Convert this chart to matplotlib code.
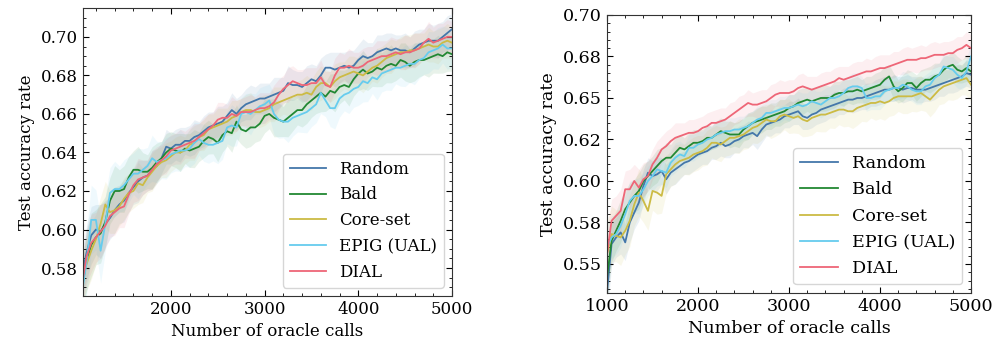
import numpy as np
import matplotlib
matplotlib.use('Agg')
import matplotlib.pyplot as plt
from matplotlib.ticker import MultipleLocator, FixedLocator, FixedFormatter

# x grids (oracle calls)
left_x = list(range(1050, 5001, 50))
right_x = list(range(1000, 5001, 50))

labels = ['Random', 'Bald', 'Core-set', 'EPIG (UAL)', 'DIAL']
colors = ['#4477AA', '#228833', '#CCBB44', '#66CCEE', '#EE6677']

# left panel, mean test accuracy
left_random = [
    0.576, 0.588, 0.597, 0.600, 0.599, 0.603, 0.606, 0.610, 0.613, 0.615,
    0.619, 0.622, 0.625, 0.627, 0.628, 0.631, 0.633, 0.637, 0.643, 0.642,
    0.644, 0.644, 0.646, 0.646, 0.648, 0.649, 0.651, 0.653, 0.654, 0.655,
    0.656, 0.659, 0.662, 0.660, 0.663, 0.665, 0.666, 0.667, 0.668, 0.668,
    0.669, 0.670, 0.671, 0.672, 0.676, 0.675, 0.675, 0.674, 0.676, 0.678,
    0.677, 0.680, 0.684, 0.684, 0.683, 0.684, 0.685, 0.684, 0.685, 0.688,
    0.690, 0.689, 0.690, 0.692, 0.693, 0.694, 0.693, 0.694, 0.693, 0.693,
    0.692, 0.694, 0.696, 0.697, 0.698, 0.698, 0.698, 0.700, 0.702, 0.704]
left_bald = [
    0.569, 0.584, 0.592, 0.596, 0.598, 0.604, 0.615, 0.620, 0.620, 0.621,
    0.627, 0.631, 0.631, 0.630, 0.630, 0.632, 0.635, 0.637, 0.640, 0.642,
    0.641, 0.640, 0.642, 0.641, 0.642, 0.643, 0.646, 0.648, 0.647, 0.645,
    0.649, 0.651, 0.650, 0.656, 0.652, 0.651, 0.653, 0.653, 0.655, 0.659,
    0.660, 0.658, 0.657, 0.656, 0.658, 0.660, 0.662, 0.662, 0.665, 0.667,
    0.669, 0.671, 0.669, 0.672, 0.671, 0.674, 0.675, 0.674, 0.678, 0.681,
    0.683, 0.681, 0.682, 0.684, 0.683, 0.685, 0.686, 0.685, 0.688, 0.687,
    0.685, 0.687, 0.688, 0.688, 0.689, 0.690, 0.691, 0.690, 0.692, 0.691]
left_coreset = [
    0.574, 0.582, 0.589, 0.595, 0.603, 0.613, 0.609, 0.610, 0.612, 0.616,
    0.619, 0.620, 0.624, 0.623, 0.627, 0.630, 0.633, 0.635, 0.636, 0.638,
    0.640, 0.640, 0.641, 0.644, 0.645, 0.648, 0.649, 0.652, 0.653, 0.654,
    0.655, 0.656, 0.658, 0.659, 0.661, 0.662, 0.662, 0.661, 0.661, 0.662,
    0.663, 0.665, 0.666, 0.667, 0.668, 0.669, 0.670, 0.670, 0.671, 0.670,
    0.674, 0.676, 0.676, 0.674, 0.677, 0.679, 0.680, 0.681, 0.682, 0.681,
    0.680, 0.682, 0.684, 0.685, 0.687, 0.689, 0.690, 0.691, 0.692, 0.692,
    0.693, 0.693, 0.694, 0.695, 0.696, 0.695, 0.695, 0.697, 0.698, 0.697]
left_epig = [
    0.567, 0.583, 0.605, 0.605, 0.589, 0.603, 0.619, 0.621, 0.621, 0.623,
    0.626, 0.629, 0.629, 0.631, 0.633, 0.637, 0.635, 0.636, 0.637, 0.639,
    0.640, 0.641, 0.641, 0.642, 0.645, 0.647, 0.645, 0.644, 0.644, 0.645,
    0.646, 0.653, 0.654, 0.653, 0.660, 0.661, 0.660, 0.662, 0.664, 0.665,
    0.667, 0.660, 0.657, 0.656, 0.656, 0.658, 0.659, 0.660, 0.661, 0.663,
    0.665, 0.671, 0.667, 0.663, 0.663, 0.668, 0.670, 0.671, 0.673, 0.674,
    0.677, 0.676, 0.679, 0.678, 0.681, 0.682, 0.683, 0.684, 0.684, 0.685,
    0.686, 0.686, 0.688, 0.689, 0.692, 0.693, 0.694, 0.696, 0.694, 0.694]
left_dial = [
    0.571, 0.586, 0.593, 0.596, 0.599, 0.602, 0.607, 0.609, 0.611, 0.612,
    0.618, 0.623, 0.626, 0.627, 0.628, 0.631, 0.634, 0.636, 0.638, 0.641,
    0.642, 0.643, 0.644, 0.645, 0.646, 0.648, 0.650, 0.652, 0.654, 0.657,
    0.658, 0.658, 0.660, 0.659, 0.661, 0.661, 0.661, 0.662, 0.663, 0.663,
    0.664, 0.666, 0.670, 0.673, 0.675, 0.677, 0.676, 0.675, 0.675, 0.676,
    0.676, 0.679, 0.675, 0.674, 0.680, 0.684, 0.684, 0.685, 0.684, 0.684,
    0.685, 0.687, 0.688, 0.689, 0.690, 0.690, 0.691, 0.692, 0.691, 0.692,
    0.692, 0.693, 0.694, 0.697, 0.699, 0.697, 0.698, 0.699, 0.700, 0.700]

# right panel, mean test accuracy
right_random = [
    0.533, 0.562, 0.566, 0.569, 0.563, 0.575, 0.581, 0.587, 0.597, 0.605,
    0.603, 0.604, 0.606, 0.601, 0.605, 0.607, 0.609, 0.611, 0.612, 0.614,
    0.616, 0.617, 0.618, 0.620, 0.621, 0.623, 0.621, 0.622, 0.624, 0.625,
    0.627, 0.628, 0.629, 0.627, 0.631, 0.634, 0.635, 0.636, 0.637, 0.639,
    0.640, 0.641, 0.642, 0.639, 0.638, 0.640, 0.641, 0.643, 0.644, 0.645,
    0.646, 0.647, 0.648, 0.649, 0.649, 0.650, 0.650, 0.651, 0.652, 0.653,
    0.654, 0.655, 0.655, 0.656, 0.656, 0.655, 0.656, 0.656, 0.655, 0.655,
    0.655, 0.656, 0.657, 0.658, 0.659, 0.660, 0.661, 0.662, 0.663, 0.665,
    0.664]
right_bald = [
    0.542, 0.564, 0.570, 0.576, 0.583, 0.587, 0.591, 0.594, 0.600, 0.603,
    0.606, 0.609, 0.612, 0.614, 0.614, 0.617, 0.620, 0.619, 0.621, 0.623,
    0.623, 0.624, 0.626, 0.626, 0.628, 0.630, 0.629, 0.628, 0.628, 0.628,
    0.631, 0.633, 0.635, 0.636, 0.637, 0.638, 0.639, 0.640, 0.641, 0.642,
    0.644, 0.645, 0.647, 0.648, 0.649, 0.648, 0.649, 0.650, 0.650, 0.650,
    0.652, 0.653, 0.653, 0.654, 0.654, 0.655, 0.654, 0.655, 0.656, 0.657,
    0.658, 0.661, 0.663, 0.657, 0.654, 0.656, 0.659, 0.659, 0.656, 0.659,
    0.661, 0.661, 0.663, 0.664, 0.667, 0.669, 0.670, 0.667, 0.666, 0.668,
    0.666]
right_coreset = [
    0.556, 0.568, 0.567, 0.566, 0.570, 0.576, 0.586, 0.593, 0.588, 0.582,
    0.594, 0.593, 0.591, 0.604, 0.607, 0.610, 0.612, 0.613, 0.614, 0.616,
    0.617, 0.618, 0.620, 0.623, 0.623, 0.622, 0.624, 0.626, 0.626, 0.627,
    0.628, 0.630, 0.632, 0.633, 0.635, 0.637, 0.636, 0.636, 0.639, 0.640,
    0.639, 0.638, 0.639, 0.637, 0.636, 0.638, 0.639, 0.640, 0.640, 0.641,
    0.642, 0.643, 0.643, 0.642, 0.642, 0.644, 0.645, 0.646, 0.647, 0.647,
    0.648, 0.647, 0.648, 0.650, 0.651, 0.651, 0.651, 0.651, 0.652, 0.653,
    0.651, 0.649, 0.652, 0.655, 0.657, 0.658, 0.659, 0.660, 0.661, 0.662,
    0.658]
right_epig = [
    0.560, 0.566, 0.568, 0.573, 0.580, 0.588, 0.591, 0.591, 0.595, 0.600,
    0.603, 0.607, 0.606, 0.605, 0.611, 0.614, 0.616, 0.615, 0.620, 0.620,
    0.622, 0.623, 0.625, 0.626, 0.628, 0.629, 0.630, 0.630, 0.631, 0.631,
    0.632, 0.633, 0.635, 0.637, 0.638, 0.641, 0.641, 0.642, 0.643, 0.644,
    0.644, 0.645, 0.646, 0.645, 0.646, 0.648, 0.647, 0.646, 0.648, 0.650,
    0.650, 0.651, 0.653, 0.656, 0.657, 0.657, 0.656, 0.650, 0.650, 0.651,
    0.651, 0.654, 0.655, 0.656, 0.656, 0.658, 0.657, 0.655, 0.654, 0.654,
    0.657, 0.658, 0.662, 0.664, 0.669, 0.668, 0.667, 0.664, 0.662, 0.666,
    0.675]
right_dial = [
    0.556, 0.576, 0.579, 0.582, 0.595, 0.595, 0.600, 0.596, 0.601, 0.603,
    0.610, 0.614, 0.619, 0.621, 0.624, 0.626, 0.627, 0.628, 0.629, 0.629,
    0.630, 0.632, 0.633, 0.635, 0.635, 0.636, 0.637, 0.639, 0.641, 0.643,
    0.645, 0.647, 0.646, 0.646, 0.647, 0.648, 0.650, 0.652, 0.653, 0.653,
    0.653, 0.654, 0.656, 0.657, 0.656, 0.655, 0.656, 0.657, 0.658, 0.659,
    0.660, 0.662, 0.661, 0.662, 0.663, 0.664, 0.665, 0.666, 0.666, 0.667,
    0.668, 0.668, 0.669, 0.670, 0.671, 0.672, 0.673, 0.673, 0.673, 0.674,
    0.674, 0.675, 0.676, 0.676, 0.676, 0.677, 0.677, 0.679, 0.680, 0.682,
    0.680]

# half-width of the shaded bands
left_spread = [
    0.012, 0.014, 0.015, 0.013, 0.014, 0.012, 0.011, 0.012, 0.010, 0.011,
    0.010, 0.009, 0.011, 0.009, 0.008, 0.010, 0.009, 0.008, 0.009, 0.008,
    0.008, 0.009, 0.007, 0.008, 0.009, 0.007, 0.008, 0.008, 0.007, 0.009,
    0.008, 0.007, 0.009, 0.008, 0.007, 0.008, 0.009, 0.007, 0.008, 0.008,
    0.007, 0.009, 0.008, 0.007, 0.009, 0.008, 0.007, 0.008, 0.009, 0.008,
    0.008, 0.009, 0.007, 0.008, 0.009, 0.008, 0.007, 0.009, 0.008, 0.008,
    0.009, 0.008, 0.007, 0.009, 0.008, 0.008, 0.009, 0.007, 0.008, 0.009,
    0.008, 0.009, 0.008, 0.007, 0.009, 0.008, 0.009, 0.008, 0.009, 0.008]
right_spread = [
    0.015, 0.013, 0.012, 0.013, 0.011, 0.012, 0.010, 0.011, 0.010, 0.009,
    0.009, 0.010, 0.008, 0.009, 0.008, 0.009, 0.008, 0.007, 0.008, 0.008,
    0.008, 0.007, 0.008, 0.007, 0.008, 0.008, 0.007, 0.008, 0.007, 0.008,
    0.007, 0.008, 0.007, 0.008, 0.008, 0.007, 0.008, 0.007, 0.008, 0.007,
    0.008, 0.007, 0.008, 0.008, 0.007, 0.008, 0.007, 0.008, 0.008, 0.007,
    0.008, 0.007, 0.008, 0.007, 0.008, 0.008, 0.007, 0.008, 0.007, 0.008,
    0.008, 0.008, 0.007, 0.008, 0.007, 0.008, 0.008, 0.007, 0.008, 0.008,
    0.007, 0.008, 0.008, 0.007, 0.008, 0.007, 0.008, 0.008, 0.007, 0.008,
    0.008]
left_scale = [1.0, 1.1, 1.0, 1.2, 1.0]
right_scale = [1.0, 1.0, 1.3, 1.0, 1.0]

right_yticks = [0.55, 0.575, 0.60, 0.625, 0.65, 0.675, 0.70]
right_yticklabels = ['0.55', '0.58', '0.60', '0.62', '0.65', '0.68', '0.70']

plt.rcParams['font.family'] = 'serif'
plt.rcParams['font.serif'] = ['DejaVu Serif']

fig = plt.figure(figsize=(10.06, 3.47), dpi=100)
ax1 = fig.add_axes([0.0825, 0.147, 0.3668, 0.830])
ax2 = fig.add_axes([0.6034, 0.1556, 0.3618, 0.8012])

left_series = [left_random, left_bald, left_coreset, left_epig, left_dial]
right_series = [right_random, right_bald, right_coreset, right_epig, right_dial]


def draw(ax, x, series, spread, scale, fs):
    x = np.array(x)
    spread = np.array(spread)
    for y, s, c in zip(series, scale, colors):
        y = np.array(y)
        ax.fill_between(x, y - s * spread, y + s * spread, color=c,
                        alpha=0.1, linewidth=0)
    for y, c, lab in zip(series, colors, labels):
        ax.plot(x, y, color=c, linewidth=1.3, label=lab)
    ax.set_xlabel('Number of oracle calls', fontsize=fs)
    ax.set_ylabel('Test accuracy rate', fontsize=fs)
    ax.xaxis.set_minor_locator(MultipleLocator(200))
    ax.yaxis.set_minor_locator(MultipleLocator(0.005))
    ax.tick_params(which='both', direction='in', top=True, right=True,
                   labelsize=fs)
    ax.tick_params(which='major', length=4, width=0.8)
    ax.tick_params(which='minor', length=2, width=0.6)
    for sp in ax.spines.values():
        sp.set_color('#333333')
    ax.legend(loc='lower right', fontsize=fs, handlelength=2.15,
              handletextpad=0.8, borderpad=0.4, labelspacing=0.53)


draw(ax1, left_x, left_series, left_spread, left_scale, 12)
ax1.set_xlim(1062, 5000)
ax1.set_ylim(0.5655, 0.715)
ax1.xaxis.set_major_locator(MultipleLocator(1000))
ax1.yaxis.set_major_locator(MultipleLocator(0.02))
ax1.yaxis.set_major_formatter('{x:.2f}')

draw(ax2, right_x, right_series, right_spread, right_scale, 12.6)
ax2.set_xlim(1000, 5000)
ax2.set_ylim(0.5325, 0.70)
ax2.xaxis.set_major_locator(MultipleLocator(1000))
ax2.yaxis.set_major_locator(FixedLocator(right_yticks))
ax2.yaxis.set_major_formatter(FixedFormatter(right_yticklabels))

fig.savefig('out.png', dpi=100)
